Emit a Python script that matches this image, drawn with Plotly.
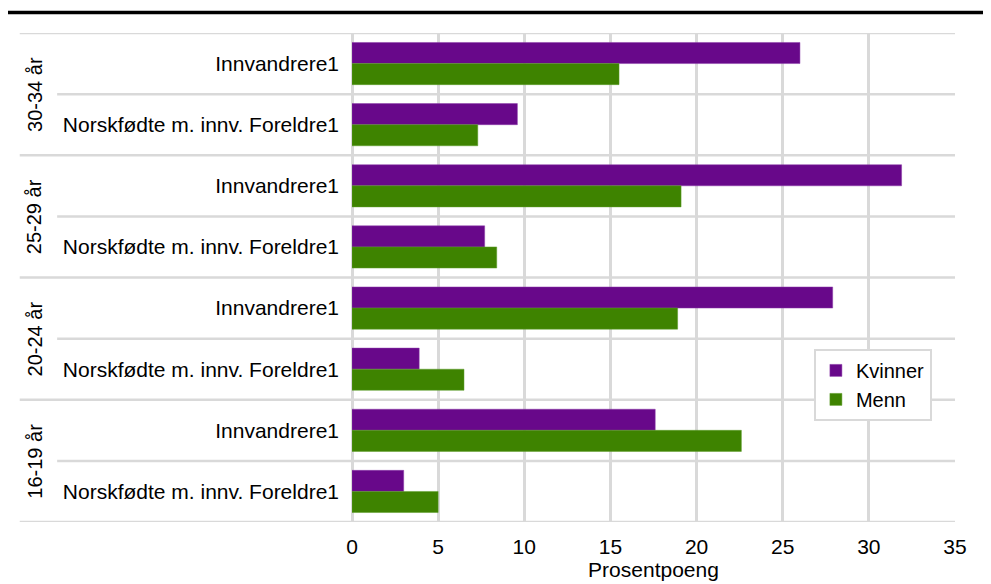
import plotly.graph_objects as go

# age groups, top to bottom, and the two subgroups within each
groups = ["30-34 år", "25-29 år", "20-24 år", "16-19 år"]
subgroups = ["Innvandrere1", "Norskfødte m. innv. Foreldre1"]

# values in percentage points, same order as the rows (top to bottom)
kvinner = [26.0, 9.6, 31.9, 7.7, 27.9, 3.9, 17.6, 3.0]
menn = [15.5, 7.3, 19.1, 8.4, 18.9, 6.5, 22.6, 5.0]

x_ticks = [0, 5, 10, 15, 20, 25, 30, 35]

PURPLE = "#68088a"
GREEN = "#3e8300"
GRID = "#d9d9d9"
FONT = "Liberation Sans, Arial, sans-serif"

row_labels = [sub for _ in groups for sub in subgroups]
rows = list(range(len(row_labels)))

fig = go.Figure()
fig.add_trace(go.Bar(
    y=rows, x=kvinner, name="Kvinner", orientation="h",
    marker=dict(color=PURPLE, line=dict(color="#8a3aa8", width=0.5)),
))
fig.add_trace(go.Bar(
    y=rows, x=menn, name="Menn", orientation="h",
    marker=dict(color=GREEN, line=dict(color="#5c9d2a", width=0.5)),
))

# horizontal separators: long ones between age groups, short ones inside
shapes = []
for i in range(len(rows) + 1):
    outer = i % 2 == 0
    shapes.append(dict(
        type="line", xref="paper", yref="y",
        x0=-0.551 if outer else -0.489, x1=1.0,
        y0=i - 0.5, y1=i - 0.5,
        line=dict(color=GRID, width=2.5), layer="below",
    ))
# heavy rule at the top of the page
shapes.append(dict(
    type="line", xref="paper", yref="paper",
    x0=-0.572, x1=1.07, y0=1.042, y1=1.042,
    line=dict(color="black", width=3.5),
))

annotations = []
for g, name in enumerate(groups):
    annotations.append(dict(
        text=name, xref="paper", yref="y", x=-0.526, y=2 * g + 0.5,
        textangle=-90, showarrow=False, xanchor="center", yanchor="middle",
        font=dict(size=20, color="black"),
    ))

# the page body adds an 8px margin, so the figure is 8px smaller each way
fig.update_layout(
    width=983, height=576,
    margin=dict(l=344, r=36, t=25, b=62, autoexpand=False),
    paper_bgcolor="white", plot_bgcolor="white",
    font=dict(family=FONT, size=21, color="black"),
    barmode="group", bargap=0.31, bargroupgap=0,
    showlegend=True,
    legend=dict(
        x=0.766, y=0.354, xanchor="left", yanchor="top",
        bordercolor=GRID, borderwidth=2, bgcolor="white",
        font=dict(size=20), itemwidth=30, tracegroupgap=0,
    ),
    shapes=shapes,
    annotations=annotations,
    xaxis=dict(
        range=[0, 35], tickvals=x_ticks, showgrid=True,
        gridcolor=GRID, gridwidth=2.5, zeroline=True,
        zerolinecolor=GRID, zerolinewidth=2.5, showline=False,
        ticks="", ticklabelstandoff=10, automargin=False,
        title=dict(text="Prosentpoeng", standoff=3, font=dict(size=21)),
    ),
    yaxis=dict(
        range=[len(rows) - 0.5, -0.5], tickvals=rows, ticktext=row_labels,
        showgrid=False, zeroline=False, showline=False, ticks="",
        ticklabelstandoff=12, automargin=False,
    ),
)

fig.write_html("out.html")
